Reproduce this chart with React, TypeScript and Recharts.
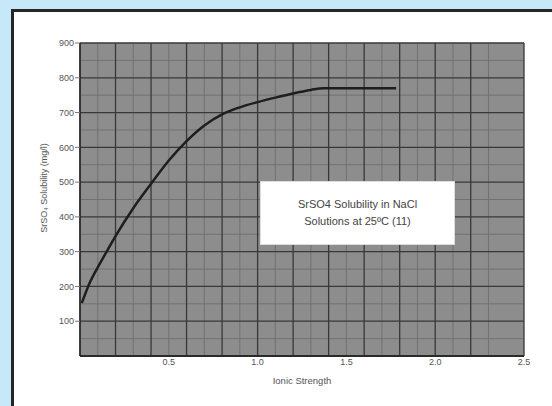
import { LineChart, Line, XAxis, YAxis, CartesianGrid, Label } from "recharts";

// curve
const IONIC_STRENGTH = [0.01, 0.05, 0.1, 0.15, 0.2, 0.3, 0.4, 0.5, 0.6, 0.7, 0.8, 0.9, 1.0, 1.1, 1.2, 1.3, 1.37, 1.78];
const SOLUBILITY = [152, 205, 255, 300, 345, 425, 495, 562, 618, 663, 695, 715, 730, 743, 755, 765, 770, 770];

const X_TICKS = [0.5, 1.0, 1.5, 2.0, 2.5];
const Y_TICKS = [100, 200, 300, 400, 500, 600, 700, 800, 900];

// graph-paper lines
const MAJOR_X = [0, 0.2, 0.4, 0.6, 0.8, 1.0, 1.2, 1.4, 1.6, 1.8, 2.0, 2.2, 2.4, 2.5];
const MINOR_X = [0.1, 0.3, 0.5, 0.7, 0.9, 1.1, 1.3, 1.5, 1.7, 1.9, 2.1, 2.3];
const MAJOR_Y = [0, 100, 200, 300, 400, 500, 600, 700, 800, 900];
const MINOR_Y = [50, 150, 250, 350, 450, 550, 650, 750, 850];

const data = IONIC_STRENGTH.map((x, i) => ({ x, y: SOLUBILITY[i] }));

const FONT = "'Liberation Sans', Arial, sans-serif";
const TEXT = "#555";

export default function App() {
  return (
    <div style={{ position: "absolute", left: 0, top: 0, width: 552, height: 406, background: "#c7e8f8", overflow: "hidden" }}>
      {/* white panel with dark frame */}
      <div
        style={{
          position: "absolute",
          left: 11,
          top: 9,
          width: 560,
          height: 420,
          background: "#fff",
          border: "3px solid #262626",
          boxSizing: "border-box",
        }}
      />
      <div style={{ position: "absolute", left: 0, top: 0 }}>
        <LineChart width={552} height={406} data={data} margin={{ top: 43, right: 28, bottom: 20, left: 0 }}>
          <CartesianGrid fill="#8d8d8d" stroke="#6e6e6e" strokeWidth={0.9} horizontalValues={MINOR_Y} verticalValues={MINOR_X} />
          <CartesianGrid stroke="#383838" strokeWidth={1.3} horizontalValues={MAJOR_Y} verticalValues={MAJOR_X} />
          <XAxis
            dataKey="x"
            type="number"
            domain={[0, 2.5]}
            ticks={X_TICKS}
            tickFormatter={(v: number) => v.toFixed(1)}
            axisLine={{ stroke: "#2a2a2a", strokeWidth: 2 }}
            tickLine={false}
            tickSize={0}
            tickMargin={3}
            height={30}
            tick={{ fontSize: 9, fill: TEXT, fontFamily: FONT }}
          >
            <Label
              content={() => (
                <text x={302} y={384} textAnchor="middle" fontSize={9.5} fill={TEXT} fontFamily={FONT}>
                  Ionic Strength
                </text>
              )}
            />
          </XAxis>
          <YAxis
            type="number"
            domain={[0, 900]}
            ticks={Y_TICKS}
            width={80}
            axisLine={{ stroke: "#2a2a2a", strokeWidth: 1.5 }}
            tickLine={{ stroke: "#777" }}
            tickSize={5}
            tickMargin={1}
            tick={{ fontSize: 9, fill: TEXT, fontFamily: FONT }}
          >
            <Label
              content={() => (
                <text
                  x={47}
                  y={188}
                  transform="rotate(-90 47 188)"
                  textAnchor="middle"
                  fontSize={9}
                  fill={TEXT}
                  fontFamily={FONT}
                >
                  SrSO₄ Solubility (mg/l)
                </text>
              )}
            />
          </YAxis>
          <Line
            type="monotone"
            dataKey="y"
            stroke="#1e1e1e"
            strokeWidth={2.5}
            dot={false}
            isAnimationActive={false}
          />
        </LineChart>
      </div>
      {/* title box sitting on the graph paper */}
      <div
        style={{
          position: "absolute",
          left: 260,
          top: 181,
          width: 195,
          height: 64,
          background: "#fff",
          border: "1px solid #ddd",
          boxSizing: "border-box",
          display: "flex",
          flexDirection: "column",
          alignItems: "center",
          justifyContent: "center",
          fontFamily: FONT,
          fontSize: 11,
          lineHeight: "17px",
          color: "#444",
        }}
      >
        <div>SrSO4 Solubility in NaCl</div>
        <div>Solutions at 25ºC (11)</div>
      </div>
    </div>
  );
}
